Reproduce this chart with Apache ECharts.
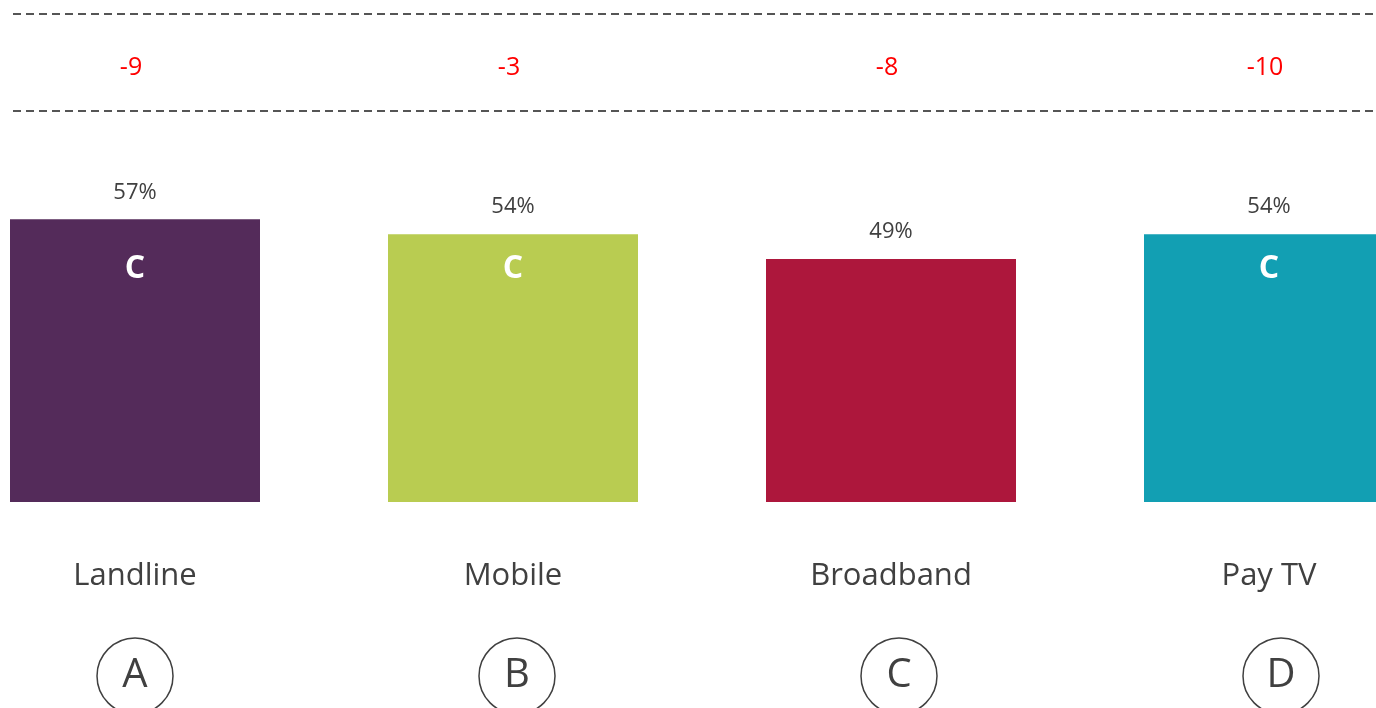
<!DOCTYPE html>
<html>
<head>
<meta charset="utf-8">
<script src="https://cdn.jsdelivr.net/npm/echarts@6/dist/echarts.min.js"></script>
<style>
  html, body { margin: 0; padding: 0; background: #fff; }
  #chart { width: 1376px; height: 708px; }
</style>
</head>
<body>
<div id="chart"></div>
<script>
// data
var categories = ['Landline', 'Mobile', 'Broadband', 'Pay TV'];
var shares = [57, 54, 49, 54];
var changes = ['-9', '-3', '-8', '-10'];
var sigLetters = ['C', 'C', '', 'C'];
var colLetters = ['A', 'B', 'C', 'D'];
var barColors = ['#542B5A', '#B9CC51', '#AD173C', '#129FB3'];

// layout: category slot width 378, first slot centre at x=135
var SLOT = 378, FIRST = 135, W = 1376;
var CIRCLE_STEP = 382; // the lettered circles are spaced slightly wider than the bars
var gridLeft = FIRST - SLOT / 2;
var gridRight = W - (gridLeft + SLOT * categories.length);
// top band spans x=13..1376, map slot index onto that with a value axis
var bandLeft = 13;
var bandMin = -(FIRST - bandLeft) / SLOT;
var bandMax = bandMin + (W - bandLeft) / SLOT;

var font = '"Open Sans", "Noto Sans", sans-serif';
var txt = '#404040';

var labelRich = {
  name: { fontSize: 31, color: txt, lineHeight: 40, fontFamily: font },
  gap: { fontSize: 10, lineHeight: 42 },
  circ: {
    fontSize: 40, color: txt, fontFamily: font,
    width: 76, height: 76, lineHeight: 76, align: 'center',
    borderColor: '#404040', borderWidth: 1.5, borderRadius: 38
  }
};
categories.forEach(function (c, i) {
  labelRich['sp' + i] = { width: Math.max(0.01, 2 * i * (CIRCLE_STEP - SLOT)), height: 76 };
});

var chart = echarts.init(document.getElementById('chart'));
chart.setOption({
  animation: false,
  textStyle: { fontFamily: font },
  grid: [
    { left: gridLeft, right: gridRight, top: 6, bottom: 206, outerBoundsMode: 'none', containLabel: false },
    { left: bandLeft, right: 0, top: 14, height: 97, outerBoundsMode: 'none', containLabel: false }
  ],
  xAxis: [
    {
      type: 'category',
      gridIndex: 0,
      data: categories,
      axisLine: { show: false },
      axisTick: { show: false },
      axisLabel: {
        margin: 54,
        formatter: function (v, i) {
          return '{name|' + v + '}\n{gap| }\n{sp' + i + '|}{circ|' + colLetters[i] + '}';
        },
        rich: labelRich
      }
    },
    {
      type: 'value',
      gridIndex: 1,
      min: bandMin,
      max: bandMax,
      show: false
    }
  ],
  yAxis: [
    { type: 'value', gridIndex: 0, min: 0, max: 100, show: false },
    {
      type: 'value', gridIndex: 1, min: 0, max: 1, interval: 1,
      axisLine: { show: false },
      axisTick: { show: false },
      axisLabel: { show: false },
      splitLine: {
        show: true,
        lineStyle: { color: '#555555', width: 2, type: [8, 5] }
      }
    }
  ],
  series: [
    {
      type: 'bar',
      xAxisIndex: 0,
      yAxisIndex: 0,
      barWidth: 250,
      data: shares.map(function (v, i) {
        return { value: v, itemStyle: { color: barColors[i] } };
      }),
      label: {
        show: true,
        position: 'top',
        distance: 16,
        formatter: '{c}%',
        fontSize: 22,
        color: txt,
        fontFamily: font
      }
    },
    {
      type: 'scatter',
      xAxisIndex: 0,
      yAxisIndex: 0,
      symbolSize: 0,
      itemStyle: { opacity: 1 },
      data: categories.map(function (c, i) { return [i, 47.4]; }),
      label: {
        show: true,
        position: 'inside',
        opacity: 1,
        offset: [0, 2],
        formatter: function (p) { return sigLetters[p.dataIndex]; },
        fontSize: 32,
        fontWeight: 'bold',
        color: '#ffffff',
        fontFamily: font
      }
    },
    {
      type: 'scatter',
      xAxisIndex: 1,
      yAxisIndex: 1,
      symbolSize: 0,
      itemStyle: { opacity: 1 },
      data: categories.map(function (c, i) { return [i, 0.5]; }),
      label: {
        show: true,
        position: 'inside',
        opacity: 1,
        offset: [-4, 5],
        formatter: function (p) { return changes[p.dataIndex]; },
        fontSize: 25,
        color: '#ff0000',
        fontFamily: font
      }
    }
  ]
});
</script>
</body>
</html>
